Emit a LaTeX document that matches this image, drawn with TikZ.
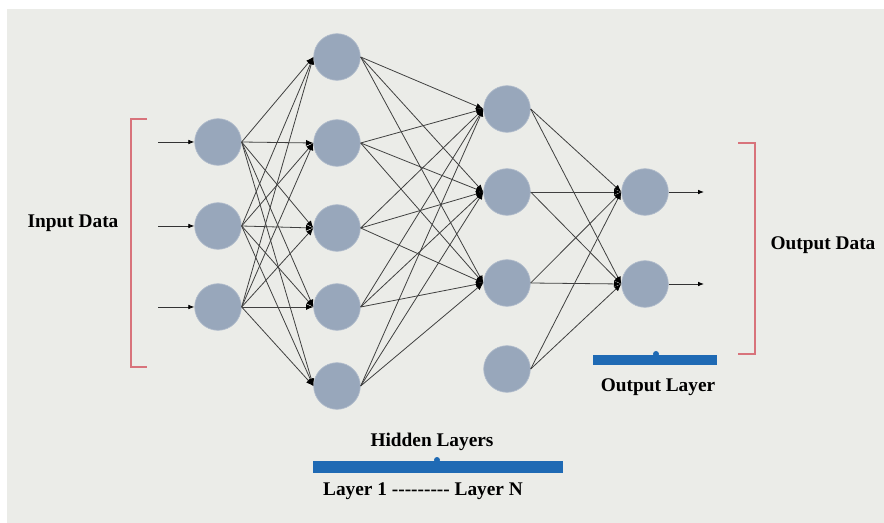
\documentclass[tikz,border=0pt]{standalone}
\usepackage{fontspec}
\setmainfont{Liberation Serif}
\usepackage{tikz}
\usetikzlibrary{arrows.meta}

\definecolor{panelgray}{HTML}{EBECE8}
\definecolor{neurongray}{HTML}{98A7BB}
\definecolor{bracketred}{HTML}{D8737B}
\definecolor{barblue}{HTML}{1F6AB4}

\tikzset{
  neuron/.style={circle,fill=neurongray,draw=neurongray!75!white,line width=0.5pt,minimum size=35pt,inner sep=0pt},
  link/.style={draw=black!75,line width=0.6pt,-{Latex[length=5.5pt,width=4.5pt,black]}},
  feed/.style={draw=black!80,line width=0.6pt,-{Latex[length=4.5pt,width=3.5pt,black]}},
  bracketline/.style={draw=bracketred,line width=0.8pt},
  layerbar/.style={fill=barblue,draw=none},
  bigtext/.style={inner sep=0.75pt,font=\fontsize{14.5}{17}\selectfont\bfseries},
}
\newcommand\dashrun{-{}-{}-{}-{}-{}-{}-{}-{}-}

\begin{document}
\begin{tikzpicture}[x=0.75pt,y=0.75pt,yscale=-1,xscale=1]
\useasboundingbox (0,0) rectangle (884,523);
%background panel
\fill[white] (0,0) rectangle (884,523);
\fill[panelgray] (7,9) rectangle (884,523);

%input layer
\node[neuron] (i1) at (218,142) {};
\node[neuron] (i2) at (218,226) {};
\node[neuron] (i3) at (218,307) {};
%first hidden layer
\node[neuron] (a1) at (337,57) {};
\node[neuron] (a2) at (337,143) {};
\node[neuron] (a3) at (337,228) {};
\node[neuron] (a4) at (337,307) {};
\node[neuron] (a5) at (337,386) {};
%second hidden layer
\node[neuron] (b1) at (507,109) {};
\node[neuron] (b2) at (507,192) {};
\node[neuron] (b3) at (507,283) {};
\node[neuron] (b4) at (507,369) {};
%output layer
\node[neuron] (o1) at (645,192) {};
\node[neuron] (o2) at (645,284) {};

%free ends of the in/out arrows
\coordinate (in1) at (158,142);
\coordinate (in2) at (158,226);
\coordinate (in3) at (158,307);
\coordinate (out1) at (704,192);
\coordinate (out2) at (704,284);

\draw[feed] (in1) -- (i1.west);
\draw[feed] (in2) -- (i2.west);
\draw[feed] (in3) -- (i3.west);
\draw[feed] (o1.east) -- (out1);
\draw[feed] (o2.east) -- (out2);

%input -> hidden 1
\path (i1.east) edge[link] (a1.west) edge[link] (a2.west) edge[link] (a3.west) edge[link] (a4.west) edge[link] (a5.west);
\path (i2.east) edge[link] (a1.west) edge[link] (a2.west) edge[link] (a3.west) edge[link] (a4.west) edge[link] (a5.west);
\path (i3.east) edge[link] (a1.west) edge[link] (a2.west) edge[link] (a3.west) edge[link] (a4.west) edge[link] (a5.west);
%hidden 1 -> hidden 2
\path (a1.east) edge[link] (b1.west) edge[link] (b2.west) edge[link] (b3.west);
\path (a2.east) edge[link] (b1.west) edge[link] (b2.west) edge[link] (b3.west);
\path (a3.east) edge[link] (b1.west) edge[link] (b2.west) edge[link] (b3.west);
\path (a4.east) edge[link] (b1.west) edge[link] (b2.west) edge[link] (b3.west);
\path (a5.east) edge[link] (b1.west) edge[link] (b2.west) edge[link] (b3.west);
%hidden 2 -> output
\path (b1.east) edge[link] (o1.west) edge[link] (o2.west);
\path (b2.east) edge[link] (o1.west) edge[link] (o2.west);
\path (b3.east) edge[link] (o1.west) edge[link] (o2.west);
\path (b4.east) edge[link] (o1.west) edge[link] (o2.west);

%brackets
\draw[bracketline] (147,119) -- (131,119) -- (131,367) -- (147,367);
\draw[bracketline] (738,143) -- (755,143) -- (755,354) -- (738,354);

%layer bars
\fill[layerbar] (593,355) rectangle (717,365);
\fill[layerbar] (656,354) circle[radius=3];
\fill[layerbar] (313,461) rectangle (563,473);
\fill[layerbar] (437,460) circle[radius=3];

% Text Node
\node[bigtext] (inputtxt) at (73,223) {Input Data};
% Text Node
\node[bigtext] (outputtxt) at (823,245) {Output Data};
% Text Node
\node[bigtext] (outlayertxt) at (658,387) {Output Layer};
% Text Node
\node[bigtext] (hiddentxt) at (432,442) {Hidden Layers};
% Text Node
\node[bigtext] (rangetxt) at (423,491) {Layer 1 \dashrun\ Layer N};

\end{tikzpicture}
\end{document}
